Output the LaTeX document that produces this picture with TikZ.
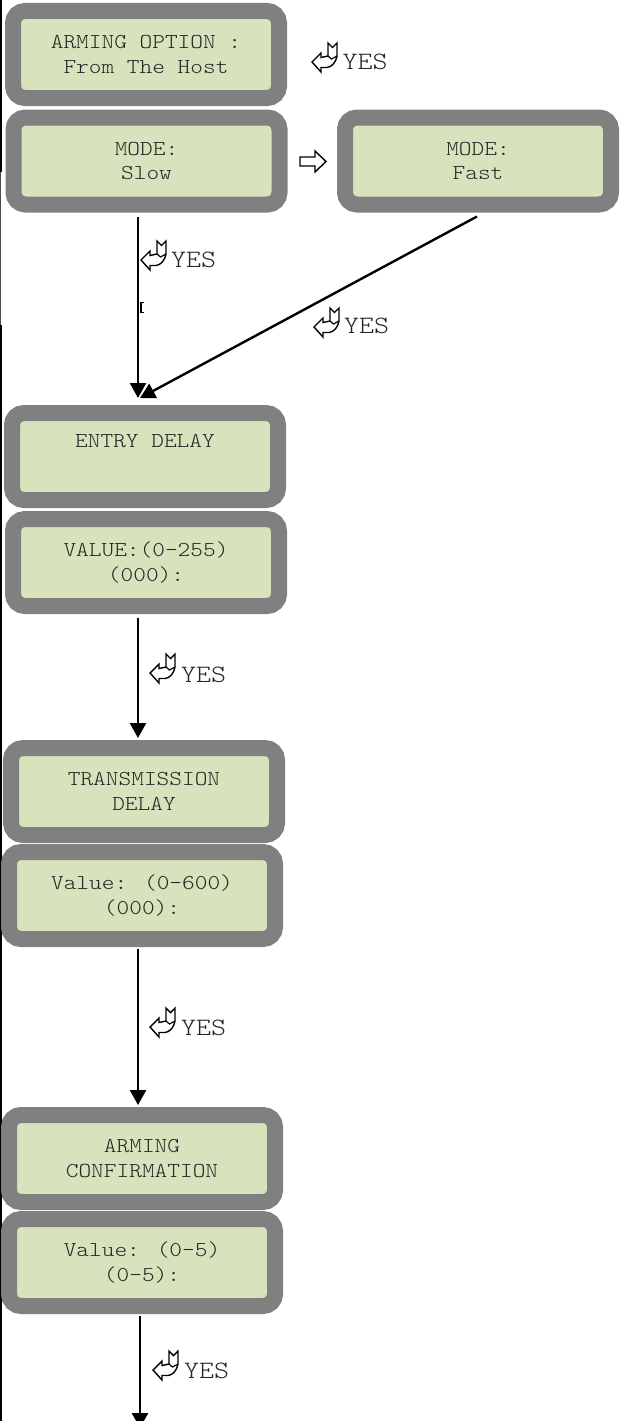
\documentclass[tikz,border=0pt]{standalone}
\usepackage{fontspec}
\newfontfamily\lcdfont[FakeStretch=1.14]{Latin Modern Mono Light}
\usetikzlibrary{arrows.meta}
\definecolor{lcdgray}{HTML}{808080}
\definecolor{lcdgreen}{HTML}{D7E3BC}
\definecolor{lcdtext}{HTML}{262626}
\tikzset{
  x=1pt,y=-1pt,
  lcd/.style={draw=lcdgray,fill=lcdgreen,line width=16pt,rounded corners=12pt,
    minimum width=266pt,minimum height=87pt,inner sep=0pt,align=center,text=lcdtext,
    font=\lcdfont\fontsize{21.2}{24.5}\selectfont},
  conn/.style={draw=black,line width=2.4pt,-{Triangle[length=15pt,width=16pt]}},
  yeslabel/.style={inner sep=0pt,anchor=west,text=lcdtext,font=\lcdfont\fontsize{25}{28}\selectfont},
  retarrow/.pic={
    \draw[black,line width=1.4pt,line join=miter,fill=white]
      (0,0) -- (9,-9) -- (9,-4.5) -- (16,-6) -- (16,-19) -- (20.5,-14.5) -- (25,-19) -- (25,-6)
      .. controls (24,0) and (20,5) .. (15,5.5) -- (9,5.5) -- (9,10) -- cycle;
    \draw[black,line width=1.2pt] (16,-6) -- (19.5,-3) -- (25,-6);
  },
  hollowright/.pic={
    \draw[black,line width=1.4pt,line join=miter,fill=white]
      (0,-4.5) -- (15,-4.5) -- (15,-10.5) -- (26,0) -- (15,10.5) -- (15,4.5) -- (0,4.5) -- cycle;
  }
}
\begin{document}
\begin{tikzpicture}
\useasboundingbox (0,0) rectangle (619,1421);
% left page rule
\fill[black] (0,0) rectangle (1.5,172);
\fill[black!70] (0,172) rectangle (0.8,325);
\fill[black] (0,325) rectangle (1.5,1421);
% boxes
\node[lcd] (option) at (146,54.5) {ARMING OPTION :\\From The Host};
\node[lcd] (slow) at (146.5,161) {MODE:\\Slow};
\node[lcd] (fast) at (478,161) {MODE:\\Fast};
\node[lcd] (entry) at (145,456.5) {ENTRY DELAY\\\strut~};
\node[lcd] (entryval) at (146,562.5) {VALUE:(0-255)\\(000):};
\node[lcd] (trans) at (144,791.5) {TRANSMISSION\\DELAY};
\node[lcd] (transval) at (142,895.5) {Value: (0-600)\\(000):};
\node[lcd] (confirm) at (142,1158.5) {ARMING\\CONFIRMATION};
\node[lcd] (confirmval) at (142,1262.5) {Value: (0-5)\\(0-5):};
% connectors
\coordinate (exit) at (140,1428);
\draw[conn] ([xshift=-8.5pt,yshift=-4pt]slow.south) -- ([xshift=-7pt,yshift=7pt]entry.north);
\draw[conn] ([xshift=-1pt,yshift=-4pt]fast.south) -- ([xshift=-5pt,yshift=7pt]entry.north);
\draw[conn] ([xshift=-8pt,yshift=-4pt]entryval.south) -- ([xshift=-6pt,yshift=2pt]trans.north);
\draw[conn] ([xshift=-4pt,yshift=-2pt]transval.south) -- ([xshift=-4pt,yshift=2pt]confirm.north);
\draw[conn] ([xshift=-2pt,yshift=-2pt]confirmval.south) -- (exit);
% stray bracket mark
\draw[black,line width=1.2pt] (144,302.5) -- (141,302.5) -- (141,312.5) -- (144,312.5);
% hollow right arrow
\pic at (300,161.5) {hollowright};
% YES marks
\pic at (312,62) {retarrow};
\node[yeslabel] (yes1) at (342.5,62) {YES};
\pic at (141,260) {retarrow};
\node[yeslabel] (yes2) at (171,260) {YES};
\pic at (314,327) {retarrow};
\node[yeslabel] (yes3) at (344,326) {YES};
\pic at (150,673) {retarrow};
\node[yeslabel] (yes4) at (181,675) {YES};
\pic at (150,1027) {retarrow};
\node[yeslabel] (yes5) at (181,1028) {YES};
\pic at (153,1370) {retarrow};
\node[yeslabel] (yes6) at (184,1371) {YES};
\end{tikzpicture}
\end{document}
